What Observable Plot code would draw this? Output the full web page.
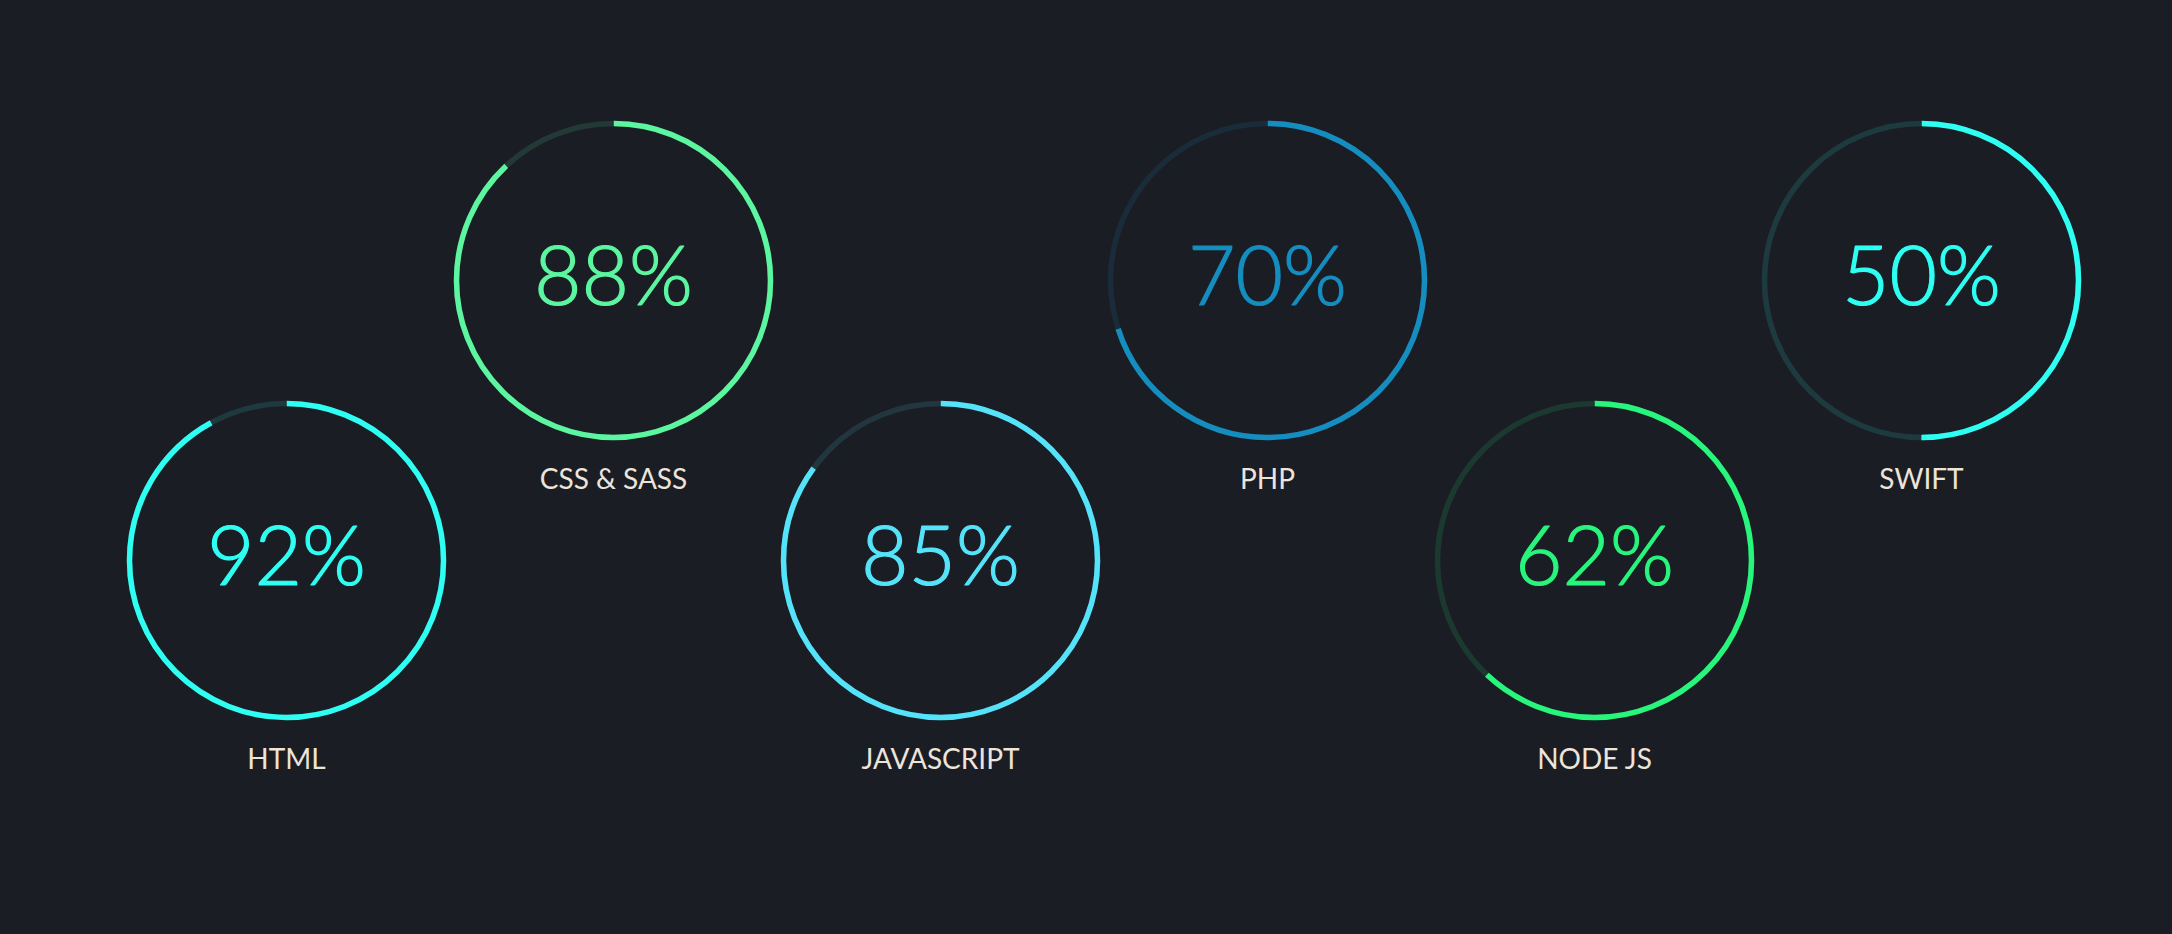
<!DOCTYPE html>
<html>
<head>
<meta charset="utf-8">
<script src="https://cdn.jsdelivr.net/npm/d3@7"></script>
<script src="https://cdn.jsdelivr.net/npm/@observablehq/plot@0.6"></script>
<style>
  html, body { margin: 0; padding: 0; background: #1b1d25; }
  #chart svg { display: block; }
</style>
</head>
<body>
<div id="chart"></div>
<script>
// Data
const skills = ["HTML", "CSS & SASS", "JAVASCRIPT", "PHP", "NODE JS", "SWIFT"];
const percents = [92, 88, 85, 70, 62, 50];
// Styles
const palette = ["#2efff2", "#5cf5a0", "#55e3fa", "#158dbf", "#27f57c", "#2efff2"];

const table = skills.map((name, i) => ({
  name,
  pct: percents[i],
  row: i % 2 ? "top" : "bottom"
}));

const R = 157;
const C = 2 * Math.PI * R;

// progress arcs: dash pattern with period C, shifted so it starts at 12 o'clock
const arcs = table.map(d => {
  const L = (d.pct / 100) * C;
  return Plot.dot([d], {
    x: "name", y: "row", r: R,
    stroke: "name", strokeWidth: 5.5, fill: "none",
    strokeDasharray: `${L} ${C - L}`,
    strokeDashoffset: C / 4
  });
});

const chart = Plot.plot({
  width: 2172,
  height: 934,
  marginLeft: 285.5,
  marginRight: 250,
  marginTop: 279.5,
  marginBottom: 374.5,
  style: { background: "#1b1d25", overflow: "visible" },
  x: { type: "point", domain: skills, padding: 0, axis: null },
  y: { type: "point", domain: ["top", "bottom"], padding: 0, axis: null },
  color: { domain: skills, range: palette },
  marks: [
    Plot.dot(table, {
      x: "name", y: "row", r: R,
      stroke: "name", strokeOpacity: 0.13, strokeWidth: 5.5, fill: "none"
    }),
    ...arcs,
    Plot.text(table, {
      x: "name", y: "row",
      text: d => `${d.pct}%`,
      fill: "name",
      stroke: "name",
      strokeWidth: 1.2,
      fontSize: 82,
      fontWeight: 300,
      fontFamily: "Lato, 'Open Sans', sans-serif",
      dy: -2
    }),
    Plot.text(table, {
      x: "name", y: "row",
      text: "name",
      fill: "#ede4da",
      fontSize: 28,
      fontWeight: 400,
      fontFamily: "Lato, 'Open Sans', sans-serif",
      dy: 200
    })
  ]
});

document.getElementById("chart").appendChild(chart);
</script>
</body>
</html>
